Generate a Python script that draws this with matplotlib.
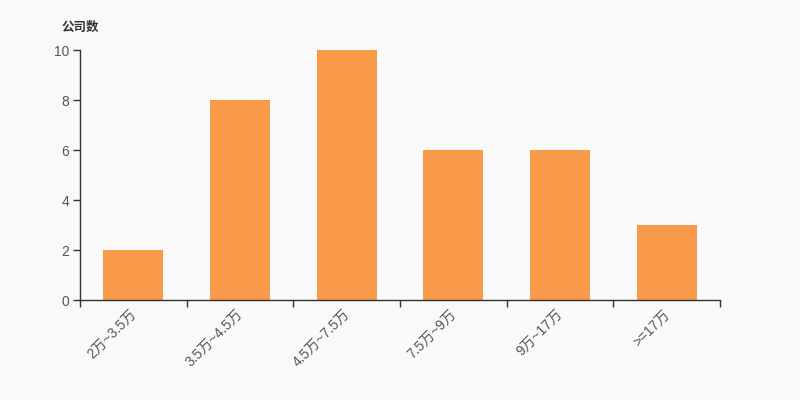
import matplotlib.pyplot as plt
import matplotlib.transforms as mtransforms
import numpy as np

plt.rcParams['font.family'] = ['Liberation Sans', 'Noto Sans CJK SC', 'DejaVu Sans']

# salary ranges and company counts
categories = ['2万~3.5万', '3.5万~4.5万', '4.5万~7.5万', '7.5万~9万', '9万~17万', '>=17万']
counts = [2, 8, 10, 6, 6, 3]

bg = '#f9f9f9'
bar_color = '#f89a4a'
axis_color = '#333333'
label_color = '#555555'

fig = plt.figure(figsize=(8, 4), dpi=100, facecolor=bg)
ax = fig.add_axes([0.1, 0.25, 0.8, 0.625], facecolor=bg)

x = np.arange(len(categories))
ax.bar(x, counts, width=0.56, color=bar_color)

ax.set_xlim(-0.5, len(categories) - 0.5)
ax.set_ylim(0, 10)
ax.set_yticks([0, 2, 4, 6, 8, 10])

# category labels at centers, tick marks at boundaries
ax.set_xticks(x)
ax.set_xticklabels(categories, rotation=45, ha='right', va='top', rotation_mode='anchor')
ax.set_xticks(np.arange(-0.5, len(categories)), minor=True)
ax.tick_params(axis='x', which='major', length=0, pad=5, labelsize=10, labelcolor=label_color)
ax.tick_params(axis='x', which='minor', length=5, width=1, color=axis_color, direction='out')
ax.tick_params(axis='y', length=5, width=1, color=axis_color, labelsize=10, labelcolor=label_color, pad=3)

# nudge rotated labels a little to the left
shift = mtransforms.ScaledTranslation(-3 / 72, 0, fig.dpi_scale_trans)
for lbl in ax.get_xticklabels():
    lbl.set_transform(lbl.get_transform() + shift)

for s in ['top', 'right']:
    ax.spines[s].set_visible(False)
for s in ['left', 'bottom']:
    ax.spines[s].set_color(axis_color)
    ax.spines[s].set_linewidth(1)

fig.text(62 / 800, 1 - 27 / 400, '公司数', fontsize=9, fontweight='bold', color=axis_color,
         va='center', ha='left', family=['Noto Sans CJK SC'])

fig.savefig('out.png', dpi=100, facecolor=bg)
